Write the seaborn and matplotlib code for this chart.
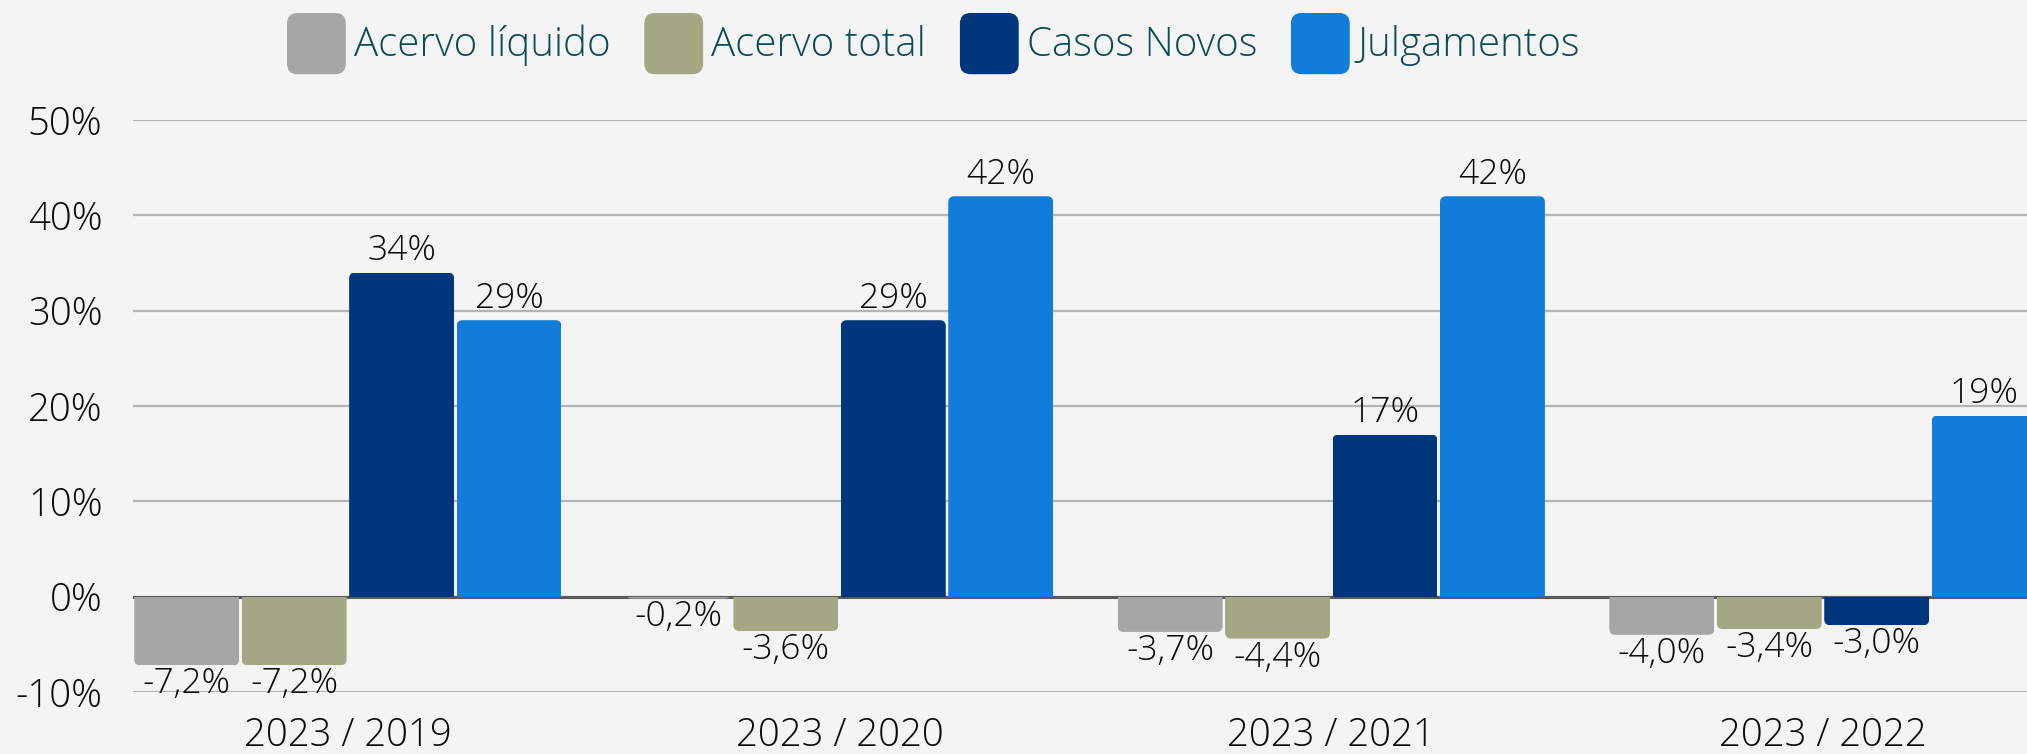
import numpy as np
import pandas as pd
import seaborn as sns
import matplotlib
matplotlib.use('Agg')
import matplotlib.pyplot as plt
from matplotlib.patches import FancyBboxPatch, Rectangle, Patch
from matplotlib.legend_handler import HandlerPatch
from matplotlib.ticker import FuncFormatter

periodos = ['2023 / 2019', '2023 / 2020', '2023 / 2021', '2023 / 2022']
indicadores = ['Acervo líquido', 'Acervo total', 'Casos Novos', 'Julgamentos']
acervo_liquido = [-7.2, -0.2, -3.7, -4.0]
acervo_total = [-7.2, -3.6, -4.4, -3.4]
casos_novos = [34, 29, 17, -3.0]
julgamentos = [29, 42, 42, 19]
cores = ['#a6a6a6', '#a3a784', '#00377c', '#127cdb']

BG = '#f4f4f4'

df = pd.DataFrame({
    'periodo': periodos * 4,
    'indicador': np.repeat(indicadores, len(periodos)),
    'valor': acervo_liquido + acervo_total + casos_novos + julgamentos,
})

sns.set_style('white')
plt.rcParams['font.family'] = ['Open Sans', 'DejaVu Sans']
plt.rcParams['font.weight'] = 'light'


class RoundHandler(HandlerPatch):
    def create_artists(self, legend, orig_handle, xdescent, ydescent,
                       width, height, fontsize, trans):
        r = 0.18 * min(width, height)
        p = FancyBboxPatch((-xdescent, -ydescent), width, height,
                           boxstyle=f'round,pad=0,rounding_size={r}',
                           facecolor=orig_handle.get_facecolor(),
                           edgecolor='none', transform=trans)
        return [p]


W, H = 2027, 754
fig = plt.figure(figsize=(W / 100, H / 100), dpi=100, facecolor=BG)
ax = fig.add_axes([133 / W, 62 / H, (W - 133) / W, 572 / H])
ax.set_facecolor(BG)

sns.barplot(data=df, x='periodo', y='valor', hue='indicador',
            hue_order=indicadores, palette=cores, width=0.874,
            saturation=1, errorbar=None, legend=False, ax=ax)

grupo_px = 491.7
ax.set_xlim(-0.437, -0.437 + (W - 133) / grupo_px)
ax.set_ylim(-10, 50)
ax.set_yticks(range(-10, 51, 10))
ax.yaxis.set_major_formatter(FuncFormatter(lambda v, p: f'{v:.0f}%'))
ax.grid(axis='y', color='#b4b4b4', lw=1.6)
ax.set_axisbelow(True)
ax.axhline(0, color='#5a5a5a', lw=2.2, zorder=1.5)
sns.despine(ax=ax, left=True, bottom=True)
ax.set_xlabel('')
ax.set_ylabel('')
ax.tick_params(axis='y', length=0, labelsize=27.5, pad=22, labelcolor='#0a0a0a')
ax.tick_params(axis='x', length=0, labelsize=27.5, pad=18, labelcolor='#0a0a0a')

# rounded bars: swap seaborn rectangles for rounded boxes clipped at the baseline
px_x = ax.transData.transform((1, 0))[0] - ax.transData.transform((0, 0))[0]
px_y = ax.transData.transform((0, 1))[1] - ax.transData.transform((0, 0))[1]
aspect = px_x / px_y
r = 6 / px_x
gap = 2.5 / px_x

for bar in list(ax.patches):
    x0 = bar.get_x() + gap / 2
    w = bar.get_width() - gap
    h = bar.get_height()
    cor = bar.get_facecolor()
    bar.remove()
    ext = 2 * r * aspect
    if h >= 0:
        y0, hh = -ext, h + ext
    else:
        y0, hh = h, -h + ext
    p = FancyBboxPatch((x0, y0), w, hh,
                       boxstyle=f'round,pad=0,rounding_size={r}',
                       mutation_aspect=aspect, facecolor=cor,
                       edgecolor='none', zorder=2)
    ax.add_patch(p)
    p.set_clip_path(Rectangle((x0, min(0, h)), w, abs(h), transform=ax.transData))

    txt = f'{h:.0f}%' if abs(h) >= 10 else f'{h:.1f}%'.replace('.', ',')
    if h >= 0:
        ax.annotate(txt, (x0 + w / 2, h), xytext=(0, 3), textcoords='offset points',
                    ha='center', va='bottom', fontsize=25.5, color='#0a0a0a',
                    annotation_clip=False)
    else:
        ax.annotate(txt, (x0 + w / 2, h), xytext=(0, -1), textcoords='offset points',
                    ha='center', va='top', fontsize=25.5, color='#0a0a0a',
                    annotation_clip=False)

handles = [Patch(facecolor=c) for c in cores]
leg = fig.legend(handles, indicadores, loc='upper left',
                 bbox_to_anchor=(287 / W, 1 - 13 / H), ncol=4, frameon=False,
                 fontsize=29, handlelength=1.46, handleheight=1.96,
                 handletextpad=0.2, columnspacing=0.84, borderpad=0,
                 borderaxespad=0, handler_map={Patch: RoundHandler()})
for t in leg.get_texts():
    t.set_color('#0b4c57')

fig.savefig('out.png', dpi=100, facecolor=BG)
